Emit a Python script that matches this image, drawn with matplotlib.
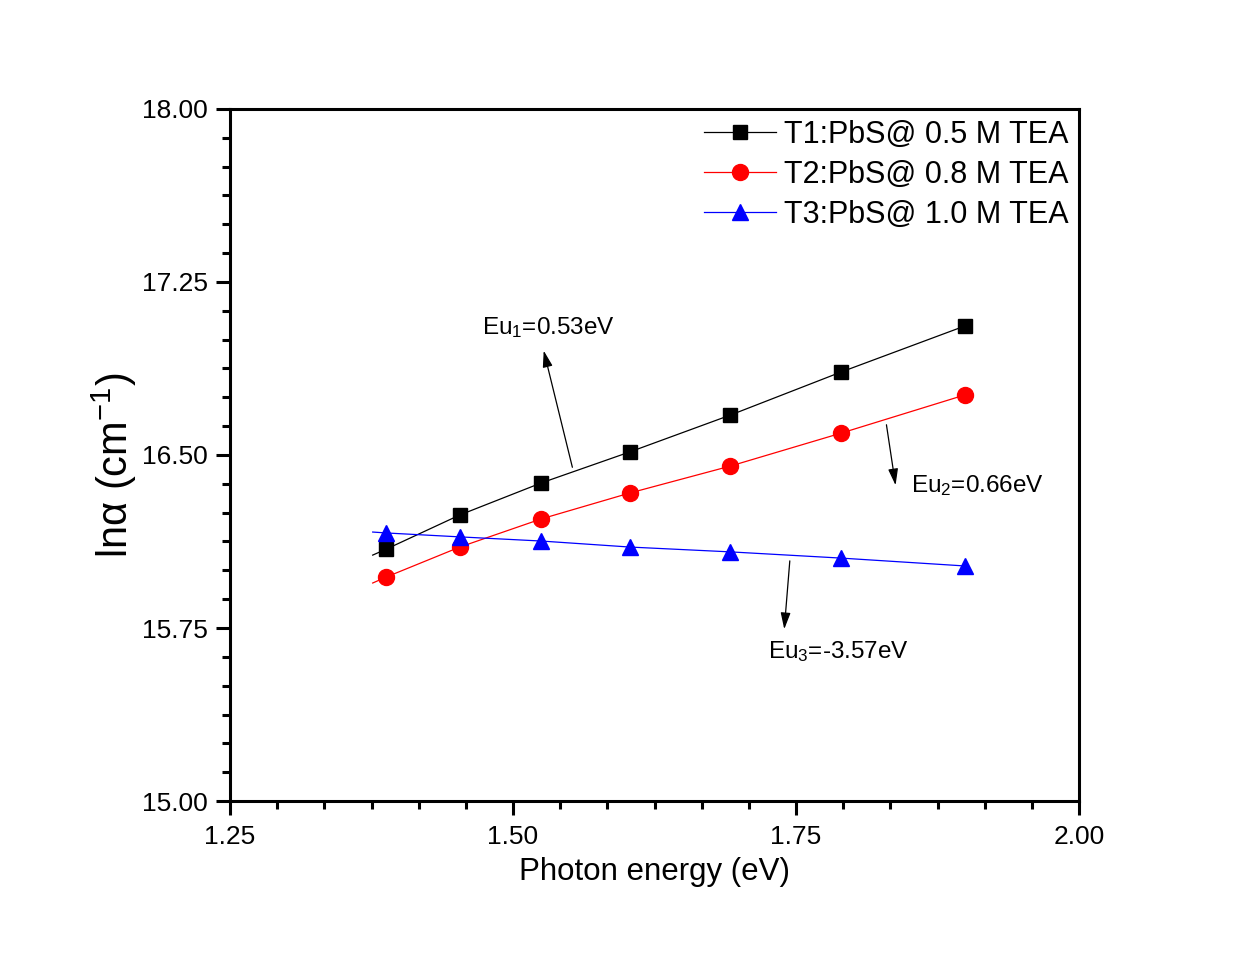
import matplotlib
matplotlib.use("Agg")
import matplotlib.pyplot as plt
from matplotlib.ticker import MultipleLocator, AutoMinorLocator, FormatStrFormatter

plt.rcParams['font.family'] = ['Liberation Sans', 'DejaVu Sans']
plt.rcParams['mathtext.fontset'] = 'custom'
plt.rcParams['mathtext.rm'] = 'Liberation Sans'
plt.rcParams['mathtext.it'] = 'Liberation Sans:italic'

# photon energy (eV) and ln(alpha) for the three films
energy = [1.388, 1.453, 1.525, 1.603, 1.692, 1.790, 1.899]
t1 = [16.092, 16.240, 16.379, 16.513, 16.673, 16.860, 17.059]
t2 = [15.971, 16.101, 16.223, 16.335, 16.452, 16.595, 16.760]
t3 = [16.162, 16.145, 16.127, 16.101, 16.080, 16.053, 16.019]

# fitted curves start a little before the first measured point
fit_start = 1.376
t1_start = 16.066
t2_start = 15.945
t3_start = 16.166

labels = ["T1:PbS@ 0.5 M TEA", "T2:PbS@ 0.8 M TEA", "T3:PbS@ 1.0 M TEA"]

fig = plt.figure(figsize=(12.49, 9.6), dpi=100)
ax = fig.add_axes([0.1842, 0.1656, 0.6797, 0.7209])

series = [(t1, t1_start, 'black', 's', 10), (t2, t2_start, 'red', 'o', 11.5), (t3, t3_start, 'blue', '^', 12)]
for (vals, start, col, mk, ms), lab in zip(series, labels):
    ax.plot([fit_start] + energy, [start] + vals, color=col, lw=0.9, marker=mk, ms=ms,
            markevery=list(range(1, len(energy) + 1)), label=lab)

# Urbach energy annotations
arrow = dict(arrowstyle='-|>,head_length=1.0,head_width=0.3', color='black', lw=0.9, mutation_scale=10)
ax.annotate('', xy=(1.5265, 16.964), xytext=(1.553, 16.435), arrowprops=arrow)
ax.annotate('', xy=(1.8383, 16.357), xytext=(1.8295, 16.643), arrowprops=arrow)
ax.annotate('', xy=(1.7394, 15.733), xytext=(1.7447, 16.053), arrowprops=arrow)
ax.text(1.4726, 17.051, r'Eu$_1$=0.53eV', fontsize=17.5, va='center', ha='left')
ax.text(1.8516, 16.366, r'Eu$_2$=0.66eV', fontsize=17.5, va='center', ha='left')
ax.text(1.7253, 15.650, r'Eu$_3$=-3.57eV', fontsize=17.5, va='center', ha='left')

ax.set_xlim(1.25, 2.00)
ax.set_ylim(15.0, 18.0)
ax.xaxis.set_major_locator(MultipleLocator(0.25))
ax.yaxis.set_major_locator(MultipleLocator(0.75))
ax.xaxis.set_minor_locator(AutoMinorLocator(6))
ax.yaxis.set_minor_locator(AutoMinorLocator(6))
ax.xaxis.set_major_formatter(FormatStrFormatter('%.2f'))
ax.yaxis.set_major_formatter(FormatStrFormatter('%.2f'))
ax.tick_params(which='major', direction='out', length=10, width=2.2, labelsize=19)
ax.tick_params(axis='x', which='major', pad=7)
ax.tick_params(axis='y', which='major', pad=6)
ax.tick_params(which='minor', direction='out', length=6, width=2.2)
for sp in ax.spines.values():
    sp.set_linewidth(2.2)

ax.set_xlabel('Photon energy (eV)', fontsize=22.5, labelpad=6)
ax.set_ylabel('lnα (cm$^{-1}$)', fontsize=30, labelpad=2)
ax.yaxis.label.set_y(0.485)

ax.legend(loc='upper right', frameon=False, fontsize=22, handlelength=2.35,
          handletextpad=0.26, labelspacing=0.33, borderaxespad=0.1, borderpad=0.25)

fig.savefig('out.png', dpi=100)
